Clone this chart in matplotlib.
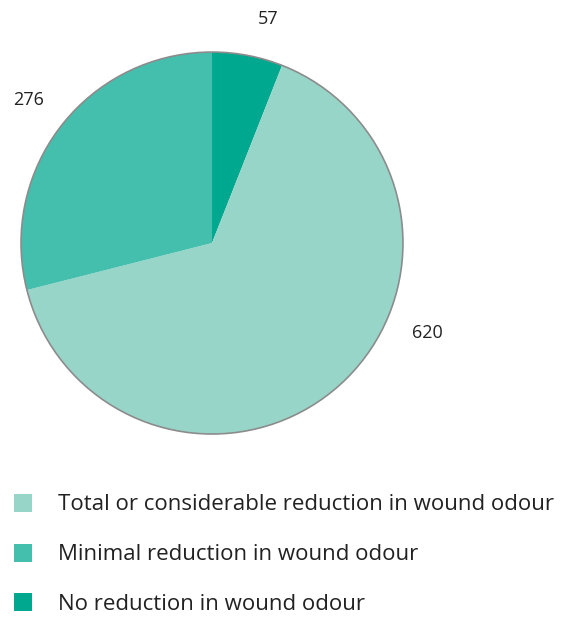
import matplotlib
matplotlib.use('Agg')
import matplotlib.pyplot as plt
from matplotlib.patches import Circle, Rectangle

categorias = ['Total or considerable reduction in wound odour',
              'Minimal reduction in wound odour',
              'No reduction in wound odour']
valores = [620, 276, 57]
cores = ['#98d5c9', '#45bfad', '#00a88f']

# ordem das fatias no sentido horario a partir do topo
ordem = [2, 0, 1]

plt.rcParams['font.family'] = ['Open Sans', 'DejaVu Sans']

fig = plt.figure(figsize=(5.61, 6.17), dpi=100)
ax = fig.add_axes([0.0374, 0.2966, 0.681, 0.619])

vals = [valores[i] for i in ordem]
cols = [cores[i] for i in ordem]
wedges, textos = ax.pie(vals, colors=cols, labels=[str(v) for v in vals],
                        startangle=90, counterclock=False, radius=1,
                        labeldistance=1.22,
                        wedgeprops=dict(linewidth=0),
                        textprops=dict(fontsize=13, color='#222222'))
ax.add_patch(Circle((0, 0), 1, fill=False, edgecolor='#8c8c8c',
                    linewidth=1.2, clip_on=False))

for t in textos:
    t.set_horizontalalignment('center')
    t.set_verticalalignment('center')
    t.set_clip_on(False)
# rotulo do 620 fica mais para a direita no original
textos[1].set_position((1.126, -0.471))
textos[0].set_position((0.293, 1.173))

ax.set_xlim(-1, 1)
ax.set_ylim(-1, 1)
ax.set_aspect('equal')
ax.axis('off')

# legenda manual
W, H = 561, 617
for i, (nome, cor) in enumerate(zip(categorias, cores)):
    yc = 503 + i * 49.5
    fig.add_artist(Rectangle((14 / W, 1 - (yc + 9) / H), 18 / W, 18 / H,
                             transform=fig.transFigure, facecolor=cor,
                             edgecolor='none'))
    fig.text(58 / W, 1 - (yc + 2) / H, nome, fontsize=16, color='#222222',
             va='center', ha='left')

fig.savefig('out.png', dpi=100)
